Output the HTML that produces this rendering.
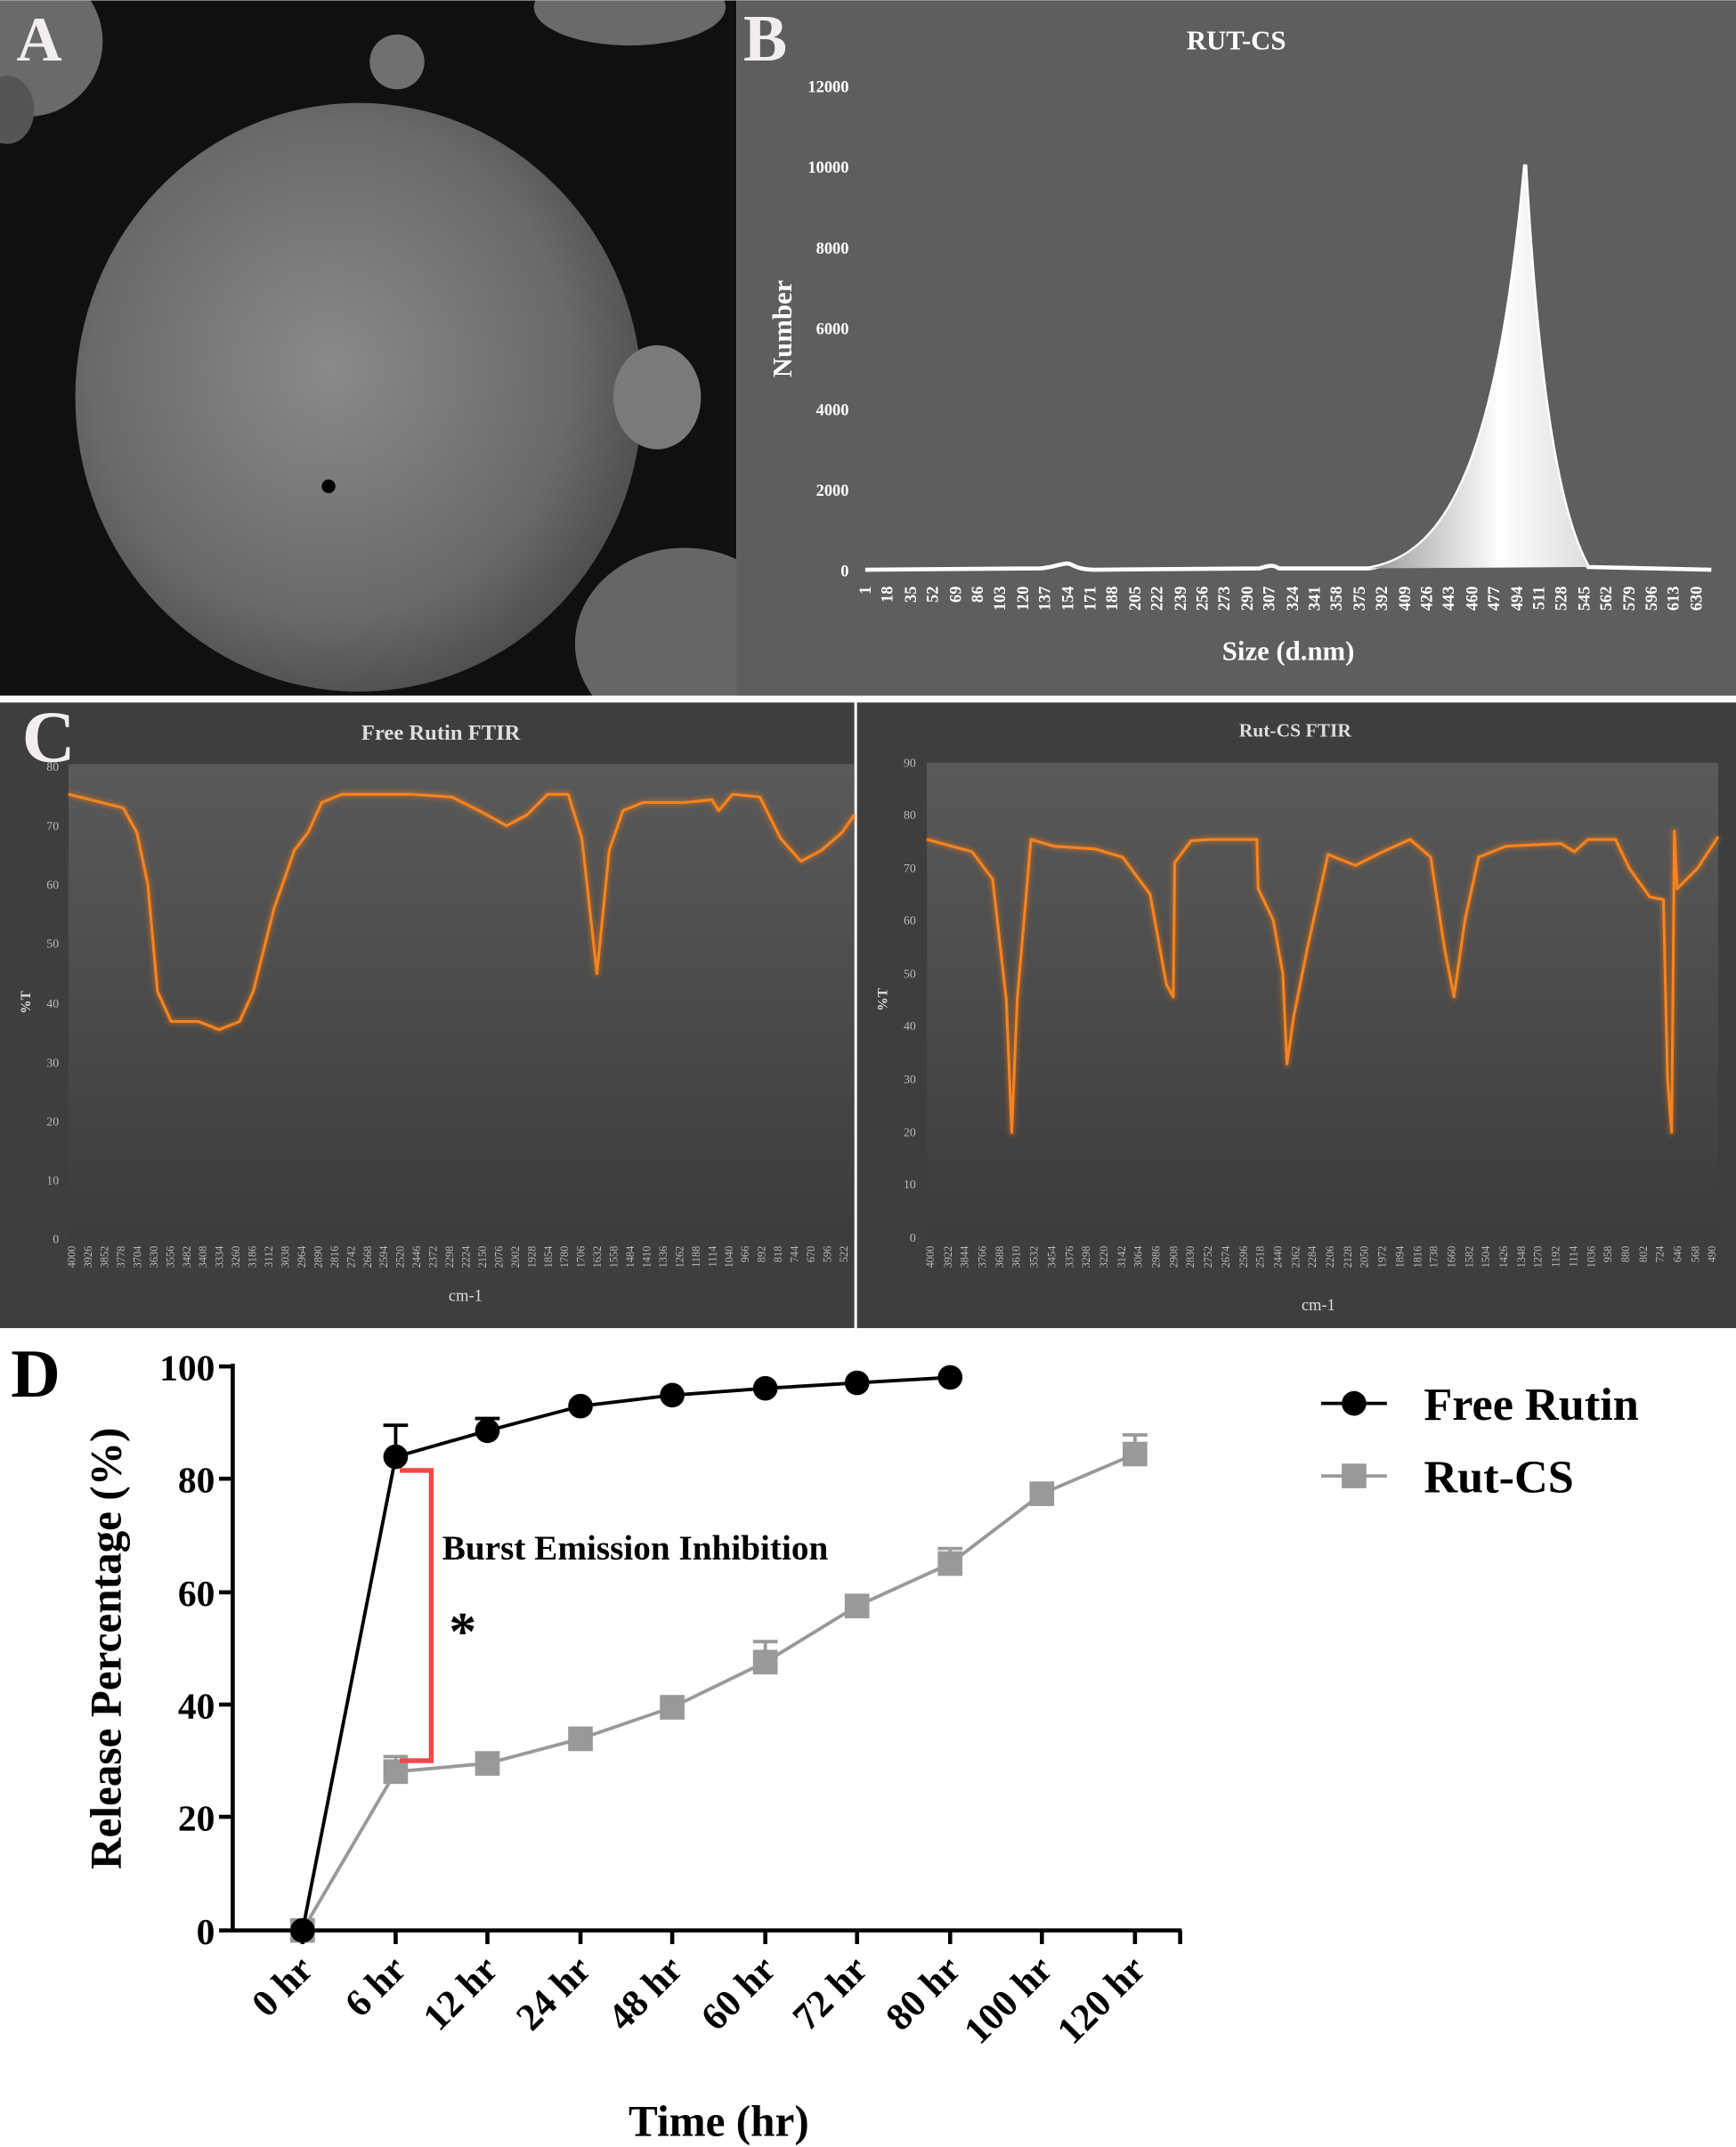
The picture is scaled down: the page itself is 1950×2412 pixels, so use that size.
<!DOCTYPE html>
<html><head><meta charset="utf-8"><style>
html,body{margin:0;padding:0;background:#fff;}
svg{display:block;}
</style></head><body>
<svg width="1950" height="2412" viewBox="0 0 1268 1568" xmlns="http://www.w3.org/2000/svg" font-family="Liberation Serif, serif">
<defs>
<radialGradient id="sph" cx="0.45" cy="0.45" r="0.6">
<stop offset="0" stop-color="#8a8a8a"/><stop offset="0.7" stop-color="#6a6a6a"/><stop offset="1" stop-color="#4a4a4a"/>
</radialGradient>
<linearGradient id="pl" x1="0" y1="0" x2="0" y2="1">
<stop offset="0" stop-color="#5a5a5a"/><stop offset="1" stop-color="#3c3c3c"/>
</linearGradient>
<linearGradient id="pk" x1="0" y1="0" x2="1" y2="0">
<stop offset="0" stop-color="#999"/><stop offset="0.6" stop-color="#fff"/><stop offset="1" stop-color="#ddd"/>
</linearGradient>
<filter id="gl"><feGaussianBlur stdDeviation="1.5"/></filter>
<clipPath id="ca"><rect x="0" y="0" width="538" height="508"/></clipPath>
</defs>
<!-- Panel A -->
<g clip-path="url(#ca)">
<rect x="0" y="0" width="538" height="508" fill="#101010"/>
<ellipse cx="262" cy="290" rx="207" ry="215" fill="url(#sph)"/>
<circle cx="290" cy="45" r="20" fill="#707070"/>
<ellipse cx="480" cy="290" rx="32" ry="38" fill="#7a7a7a"/>
<ellipse cx="500" cy="470" rx="80" ry="70" fill="#666"/>
<ellipse cx="460" cy="5" rx="70" ry="28" fill="#6a6a6a"/>
<ellipse cx="20" cy="30" rx="55" ry="55" fill="#6a6a6a"/>
<ellipse cx="5" cy="80" rx="20" ry="25" fill="#555"/>
<circle cx="240" cy="355" r="5" fill="#000"/>
</g>
<text x="12" y="44" font-size="46" font-weight="bold" fill="#f2eeee">A</text>
<!-- Panel B -->
<rect x="538" y="0" width="730" height="508" fill="#5e5e5e"/>
<text x="543" y="44" font-size="48" font-weight="bold" fill="#f2eeee">B</text>
<text x="903" y="36" font-size="20" font-weight="bold" fill="#fff" text-anchor="middle">RUT-CS</text>
<g font-size="12" font-weight="bold" fill="#fff" text-anchor="end">
<text x="620" y="421">0</text><text x="620" y="362">2000</text><text x="620" y="303">4000</text><text x="620" y="244">6000</text><text x="620" y="185">8000</text><text x="620" y="126">10000</text><text x="620" y="67">12000</text>
</g>
<text transform="translate(578,240) rotate(-90)" font-size="20" font-weight="bold" fill="#fff" text-anchor="middle">Number</text>
<path d="M632,416 L760,415 C772,414 778,410 782,412 C786,414 790,416 800,416 L920,415 C926,413 930,412 934,415 L1000,415 C1060,405 1095,330 1114,120 C1122,260 1135,370 1160,414 L1250,416" fill="none" stroke="#fff" stroke-width="3"/>
<path d="M1000,415 C1060,405 1095,330 1114,120 C1122,260 1135,370 1160,414 Z" fill="url(#pk)"/>
<g font-size="12" font-weight="bold" fill="#fff" text-anchor="end">
<text transform="translate(636,428) rotate(-90)">1</text><text transform="translate(652,428) rotate(-90)">18</text><text transform="translate(669,428) rotate(-90)">35</text><text transform="translate(685,428) rotate(-90)">52</text><text transform="translate(702,428) rotate(-90)">69</text><text transform="translate(718,428) rotate(-90)">86</text><text transform="translate(734,428) rotate(-90)">103</text><text transform="translate(751,428) rotate(-90)">120</text><text transform="translate(767,428) rotate(-90)">137</text><text transform="translate(784,428) rotate(-90)">154</text><text transform="translate(800,428) rotate(-90)">171</text><text transform="translate(816,428) rotate(-90)">188</text><text transform="translate(833,428) rotate(-90)">205</text><text transform="translate(849,428) rotate(-90)">222</text><text transform="translate(866,428) rotate(-90)">239</text><text transform="translate(882,428) rotate(-90)">256</text><text transform="translate(898,428) rotate(-90)">273</text><text transform="translate(915,428) rotate(-90)">290</text><text transform="translate(931,428) rotate(-90)">307</text><text transform="translate(948,428) rotate(-90)">324</text><text transform="translate(964,428) rotate(-90)">341</text><text transform="translate(980,428) rotate(-90)">358</text><text transform="translate(997,428) rotate(-90)">375</text><text transform="translate(1013,428) rotate(-90)">392</text><text transform="translate(1030,428) rotate(-90)">409</text><text transform="translate(1046,428) rotate(-90)">426</text><text transform="translate(1062,428) rotate(-90)">443</text><text transform="translate(1079,428) rotate(-90)">460</text><text transform="translate(1095,428) rotate(-90)">477</text><text transform="translate(1112,428) rotate(-90)">494</text><text transform="translate(1128,428) rotate(-90)">511</text><text transform="translate(1144,428) rotate(-90)">528</text><text transform="translate(1161,428) rotate(-90)">545</text><text transform="translate(1177,428) rotate(-90)">562</text><text transform="translate(1194,428) rotate(-90)">579</text><text transform="translate(1210,428) rotate(-90)">596</text><text transform="translate(1226,428) rotate(-90)">613</text><text transform="translate(1243,428) rotate(-90)">630</text>
</g>
<text x="941" y="482" font-size="20" font-weight="bold" fill="#fff" text-anchor="middle">Size (d.nm)</text>
<!-- Panel C -->
<rect x="0" y="513" width="624" height="457" fill="#3e3e3e"/>
<rect x="626" y="513" width="642" height="457" fill="#3e3e3e"/>
<rect x="50" y="558" width="574" height="347" fill="url(#pl)"/>
<rect x="677" y="557" width="578" height="347" fill="url(#pl)"/>
<text x="16" y="556" font-size="54" font-weight="bold" fill="#f2eeee">C</text>
<text x="322" y="540" font-size="16" font-weight="bold" fill="#ddd" text-anchor="middle">Free Rutin FTIR</text>
<text x="946" y="538" font-size="14" font-weight="bold" fill="#ddd" text-anchor="middle">Rut-CS FTIR</text>
<g font-size="9" fill="#bbb" text-anchor="end">
<text x="43" y="908">0</text><text x="43" y="865">10</text><text x="43" y="822">20</text><text x="43" y="779">30</text><text x="43" y="736">40</text><text x="43" y="692">50</text><text x="43" y="649">60</text><text x="43" y="606">70</text><text x="43" y="563">80</text>
<text x="669" y="907">0</text><text x="669" y="868">10</text><text x="669" y="830">20</text><text x="669" y="791">30</text><text x="669" y="752">40</text><text x="669" y="714">50</text><text x="669" y="675">60</text><text x="669" y="637">70</text><text x="669" y="598">80</text><text x="669" y="560">90</text>
</g>
<text transform="translate(22,732) rotate(-90)" font-size="10" font-weight="bold" fill="#ddd" text-anchor="middle">%T</text>
<text transform="translate(648,730) rotate(-90)" font-size="10" font-weight="bold" fill="#ddd" text-anchor="middle">%T</text>
<text x="340" y="950" font-size="12" fill="#ddd" text-anchor="middle">cm-1</text>
<text x="963" y="957" font-size="12" fill="#ddd" text-anchor="middle">cm-1</text>
<g font-size="8" fill="#bbb" text-anchor="end">
<text transform="translate(55,910) rotate(-90)">4000</text><text transform="translate(67,910) rotate(-90)">3926</text><text transform="translate(79,910) rotate(-90)">3852</text><text transform="translate(91,910) rotate(-90)">3778</text><text transform="translate(103,910) rotate(-90)">3704</text><text transform="translate(115,910) rotate(-90)">3630</text><text transform="translate(127,910) rotate(-90)">3556</text><text transform="translate(139,910) rotate(-90)">3482</text><text transform="translate(151,910) rotate(-90)">3408</text><text transform="translate(163,910) rotate(-90)">3334</text><text transform="translate(175,910) rotate(-90)">3260</text><text transform="translate(187,910) rotate(-90)">3186</text><text transform="translate(199,910) rotate(-90)">3112</text><text transform="translate(211,910) rotate(-90)">3038</text><text transform="translate(223,910) rotate(-90)">2964</text><text transform="translate(235,910) rotate(-90)">2890</text><text transform="translate(247,910) rotate(-90)">2816</text><text transform="translate(259,910) rotate(-90)">2742</text><text transform="translate(271,910) rotate(-90)">2668</text><text transform="translate(283,910) rotate(-90)">2594</text><text transform="translate(295,910) rotate(-90)">2520</text><text transform="translate(307,910) rotate(-90)">2446</text><text transform="translate(319,910) rotate(-90)">2372</text><text transform="translate(331,910) rotate(-90)">2298</text><text transform="translate(343,910) rotate(-90)">2224</text><text transform="translate(355,910) rotate(-90)">2150</text><text transform="translate(367,910) rotate(-90)">2076</text><text transform="translate(379,910) rotate(-90)">2002</text><text transform="translate(391,910) rotate(-90)">1928</text><text transform="translate(403,910) rotate(-90)">1854</text><text transform="translate(415,910) rotate(-90)">1780</text><text transform="translate(427,910) rotate(-90)">1706</text><text transform="translate(439,910) rotate(-90)">1632</text><text transform="translate(451,910) rotate(-90)">1558</text><text transform="translate(463,910) rotate(-90)">1484</text><text transform="translate(475,910) rotate(-90)">1410</text><text transform="translate(487,910) rotate(-90)">1336</text><text transform="translate(499,910) rotate(-90)">1262</text><text transform="translate(511,910) rotate(-90)">1188</text><text transform="translate(523,910) rotate(-90)">1114</text><text transform="translate(535,910) rotate(-90)">1040</text><text transform="translate(547,910) rotate(-90)">966</text><text transform="translate(559,910) rotate(-90)">892</text><text transform="translate(571,910) rotate(-90)">818</text><text transform="translate(583,910) rotate(-90)">744</text><text transform="translate(595,910) rotate(-90)">670</text><text transform="translate(607,910) rotate(-90)">596</text><text transform="translate(619,910) rotate(-90)">522</text>
<text transform="translate(682,910) rotate(-90)">4000</text><text transform="translate(695,910) rotate(-90)">3922</text><text transform="translate(707,910) rotate(-90)">3844</text><text transform="translate(720,910) rotate(-90)">3766</text><text transform="translate(733,910) rotate(-90)">3688</text><text transform="translate(745,910) rotate(-90)">3610</text><text transform="translate(758,910) rotate(-90)">3532</text><text transform="translate(771,910) rotate(-90)">3454</text><text transform="translate(784,910) rotate(-90)">3376</text><text transform="translate(796,910) rotate(-90)">3298</text><text transform="translate(809,910) rotate(-90)">3220</text><text transform="translate(822,910) rotate(-90)">3142</text><text transform="translate(834,910) rotate(-90)">3064</text><text transform="translate(847,910) rotate(-90)">2986</text><text transform="translate(860,910) rotate(-90)">2908</text><text transform="translate(872,910) rotate(-90)">2830</text><text transform="translate(885,910) rotate(-90)">2752</text><text transform="translate(898,910) rotate(-90)">2674</text><text transform="translate(911,910) rotate(-90)">2596</text><text transform="translate(923,910) rotate(-90)">2518</text><text transform="translate(936,910) rotate(-90)">2440</text><text transform="translate(949,910) rotate(-90)">2362</text><text transform="translate(961,910) rotate(-90)">2284</text><text transform="translate(974,910) rotate(-90)">2206</text><text transform="translate(987,910) rotate(-90)">2128</text><text transform="translate(999,910) rotate(-90)">2050</text><text transform="translate(1012,910) rotate(-90)">1972</text><text transform="translate(1025,910) rotate(-90)">1894</text><text transform="translate(1038,910) rotate(-90)">1816</text><text transform="translate(1050,910) rotate(-90)">1738</text><text transform="translate(1063,910) rotate(-90)">1660</text><text transform="translate(1076,910) rotate(-90)">1582</text><text transform="translate(1088,910) rotate(-90)">1504</text><text transform="translate(1101,910) rotate(-90)">1426</text><text transform="translate(1114,910) rotate(-90)">1348</text><text transform="translate(1126,910) rotate(-90)">1270</text><text transform="translate(1139,910) rotate(-90)">1192</text><text transform="translate(1152,910) rotate(-90)">1114</text><text transform="translate(1165,910) rotate(-90)">1036</text><text transform="translate(1177,910) rotate(-90)">958</text><text transform="translate(1190,910) rotate(-90)">880</text><text transform="translate(1203,910) rotate(-90)">802</text><text transform="translate(1215,910) rotate(-90)">724</text><text transform="translate(1228,910) rotate(-90)">646</text><text transform="translate(1241,910) rotate(-90)">568</text><text transform="translate(1253,910) rotate(-90)">490</text>
</g>
<g fill="none" stroke-linejoin="round">
<polyline points="50,580 90,590 100,608 108,646 115,724 125,746 145,746 160,752 175,746 185,724 200,664 215,621 225,608 235,586 250,580 300,580 330,582 350,592 370,603 385,595 400,580 415,580 425,612 436,711 445,621 455,592 470,586 500,586 520,584 525,592 535,580 555,582 570,612 585,629 600,621 615,608 624,595" stroke="#ff7a10" stroke-width="5" opacity="0.35" filter="url(#gl)"/>
<polyline points="50,580 90,590 100,608 108,646 115,724 125,746 145,746 160,752 175,746 185,724 200,664 215,621 225,608 235,586 250,580 300,580 330,582 350,592 370,603 385,595 400,580 415,580 425,612 436,711 445,621 455,592 470,586 500,586 520,584 525,592 535,580 555,582 570,612 585,629 600,621 615,608 624,595" stroke="#f7841e" stroke-width="2"/>
<polyline points="677,613 710,622 725,642 735,730 739,827 743,730 753,613 770,618 800,620 820,626 840,653 852,719 857,728 858,630 870,614 885,613 918,613 919,649 930,672 937,711 940,777 945,742 955,692 970,624 990,632 1010,622 1030,613 1045,626 1055,692 1062,728 1070,672 1080,626 1100,618 1140,616 1150,622 1160,613 1180,613 1190,634 1205,655 1215,657 1218,788 1221,827 1223,607 1225,649 1240,634 1255,611" stroke="#ff7a10" stroke-width="5" opacity="0.35" filter="url(#gl)"/>
<polyline points="677,613 710,622 725,642 735,730 739,827 743,730 753,613 770,618 800,620 820,626 840,653 852,719 857,728 858,630 870,614 885,613 918,613 919,649 930,672 937,711 940,777 945,742 955,692 970,624 990,632 1010,622 1030,613 1045,626 1055,692 1062,728 1070,672 1080,626 1100,618 1140,616 1150,622 1160,613 1180,613 1190,634 1205,655 1215,657 1218,788 1221,827 1223,607 1225,649 1240,634 1255,611" stroke="#f7841e" stroke-width="2"/>
</g>
<!-- Panel D -->
<text x="8" y="1020" font-size="50" font-weight="bold" fill="#000">D</text>
<g stroke="#000" stroke-width="3" fill="none">
<line x1="170" y1="996" x2="170" y2="1411"/>
<line x1="169" y1="1410" x2="863" y2="1410"/>
<line x1="160" y1="998" x2="170" y2="998"/><line x1="160" y1="1080" x2="170" y2="1080"/><line x1="160" y1="1163" x2="170" y2="1163"/><line x1="160" y1="1245" x2="170" y2="1245"/><line x1="160" y1="1327" x2="170" y2="1327"/><line x1="160" y1="1410" x2="170" y2="1410"/>
<line x1="221" y1="1410" x2="221" y2="1420"/><line x1="289" y1="1410" x2="289" y2="1420"/><line x1="356" y1="1410" x2="356" y2="1420"/><line x1="424" y1="1410" x2="424" y2="1420"/><line x1="491" y1="1410" x2="491" y2="1420"/><line x1="559" y1="1410" x2="559" y2="1420"/><line x1="626" y1="1410" x2="626" y2="1420"/><line x1="694" y1="1410" x2="694" y2="1420"/><line x1="761" y1="1410" x2="761" y2="1420"/><line x1="829" y1="1410" x2="829" y2="1420"/><line x1="862" y1="1410" x2="862" y2="1420"/>
</g>
<g font-size="27" font-weight="bold" fill="#000" text-anchor="end">
<text x="157" y="1008">100</text><text x="157" y="1090">80</text><text x="157" y="1173">60</text><text x="157" y="1255">40</text><text x="157" y="1337">20</text><text x="157" y="1420">0</text>
</g>
<g font-size="28" font-weight="bold" fill="#000" text-anchor="end">
<text transform="translate(230,1440) rotate(-45)">0 hr</text><text transform="translate(298,1440) rotate(-45)">6 hr</text><text transform="translate(365,1440) rotate(-45)">12 hr</text><text transform="translate(433,1440) rotate(-45)">24 hr</text><text transform="translate(500,1440) rotate(-45)">48 hr</text><text transform="translate(568,1440) rotate(-45)">60 hr</text><text transform="translate(635,1440) rotate(-45)">72 hr</text><text transform="translate(703,1440) rotate(-45)">80 hr</text><text transform="translate(770,1440) rotate(-45)">100 hr</text><text transform="translate(838,1440) rotate(-45)">120 hr</text>
</g>
<text x="525" y="1560" font-size="32" font-weight="bold" fill="#000" text-anchor="middle">Time (hr)</text>
<text transform="translate(88,1204) rotate(-90)" font-size="32" font-weight="bold" fill="#000" text-anchor="middle">Release Percentage (%)</text>
<g stroke-width="2.5" fill="none">
<g stroke="#000"><line x1="289" y1="1064" x2="289" y2="1041"/><line x1="280" y1="1041" x2="298" y2="1041"/><line x1="356" y1="1045" x2="356" y2="1036"/><line x1="347" y1="1036" x2="365" y2="1036"/></g>
<g stroke="#999"><line x1="289" y1="1294" x2="289" y2="1283"/><line x1="280" y1="1283" x2="298" y2="1283"/><line x1="559" y1="1214" x2="559" y2="1199"/><line x1="550" y1="1199" x2="568" y2="1199"/><line x1="694" y1="1142" x2="694" y2="1131"/><line x1="685" y1="1131" x2="703" y2="1131"/><line x1="829" y1="1062" x2="829" y2="1048"/><line x1="820" y1="1048" x2="838" y2="1048"/></g>
</g>
<polyline points="221,1410 289,1294 356,1288 424,1270 491,1247 559,1214 626,1173 694,1142 761,1091 829,1062" fill="none" stroke="#999" stroke-width="2.5"/>
<g fill="#999"><rect x="212" y="1401" width="18" height="18"/><rect x="280" y="1285" width="18" height="18"/><rect x="347" y="1279" width="18" height="18"/><rect x="415" y="1261" width="18" height="18"/><rect x="482" y="1238" width="18" height="18"/><rect x="550" y="1205" width="18" height="18"/><rect x="617" y="1164" width="18" height="18"/><rect x="685" y="1133" width="18" height="18"/><rect x="752" y="1082" width="18" height="18"/><rect x="820" y="1053" width="18" height="18"/></g>
<polyline points="221,1410 289,1064 356,1045 424,1027 491,1019 559,1014 626,1010 694,1006" fill="none" stroke="#000" stroke-width="2.5"/>
<g fill="#000"><circle cx="221" cy="1410" r="9"/><circle cx="289" cy="1064" r="9"/><circle cx="356" cy="1045" r="9"/><circle cx="424" cy="1027" r="9"/><circle cx="491" cy="1019" r="9"/><circle cx="559" cy="1014" r="9"/><circle cx="626" cy="1010" r="9"/><circle cx="694" cy="1006" r="9"/></g>
<polyline points="292,1074 315,1074 315,1286 292,1286" fill="none" stroke="#f04848" stroke-width="3.5"/>
<text x="323" y="1139" font-size="25.5" font-weight="bold" fill="#000">Burst Emission Inhibition</text>
<text x="328" y="1205" font-size="40" font-weight="bold" fill="#000">*</text>
<line x1="965" y1="1025" x2="1013" y2="1025" stroke="#000" stroke-width="2.5"/>
<circle cx="989" cy="1025" r="9" fill="#000"/>
<text x="1040" y="1037" font-size="34" font-weight="bold" fill="#000">Free Rutin</text>
<line x1="965" y1="1078" x2="1013" y2="1078" stroke="#999" stroke-width="2.5"/>
<rect x="980" y="1069" width="18" height="18" fill="#999"/>
<text x="1040" y="1090" font-size="34" font-weight="bold" fill="#000">Rut-CS</text>
</svg>
</body></html>
